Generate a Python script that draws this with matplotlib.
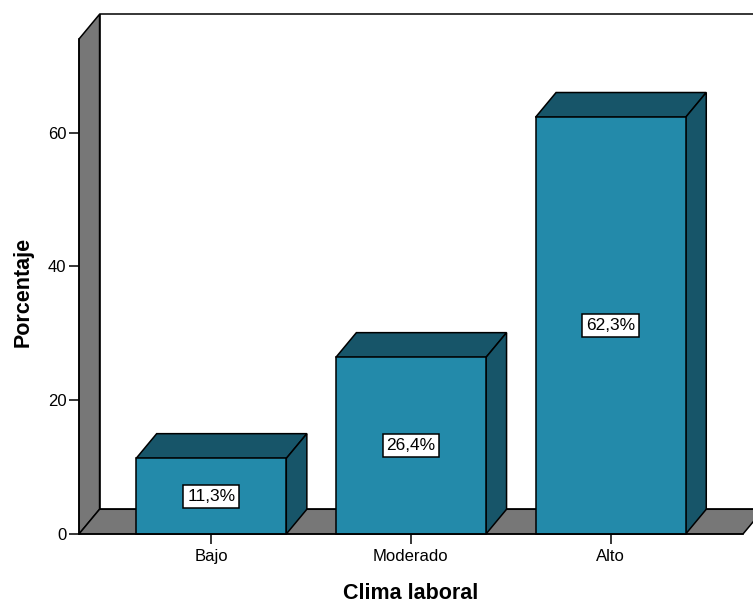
import matplotlib
matplotlib.use("Agg")
import matplotlib.pyplot as plt
from matplotlib.patches import Polygon, Rectangle

categories = ["Bajo", "Moderado", "Alto"]
values = [11.3, 26.4, 62.3]
value_labels = ["11,3%", "26,4%", "62,3%"]
y_ticks = [0, 20, 40, 60]

plt.rcParams['font.family'] = ['Liberation Sans', 'DejaVu Sans']

FRONT = "#238AAA"
DARK = "#175569"
GRAY = "#777777"

fig = plt.figure(figsize=(7.53, 6.03), dpi=100)
ax = fig.add_axes([79/753, 69/603, 664/753, 495/603])

xmin, xmax = -0.662, 2.663
ymin, ymax = 0, 74.0
dx, dy = 0.103, 3.7
bw = 0.752

ax.set_xlim(xmin, xmax)
ax.set_ylim(ymin, ymax)
ax.patch.set_visible(False)

lw = 1.1
# back panel
back = Polygon([(xmin+dx, dy), (xmin+dx, ymax+dy), (xmax+dx, ymax+dy), (xmax+dx, dy)],
               closed=True, facecolor="white", edgecolor="black", lw=lw, clip_on=False, zorder=0.5)
ax.add_patch(back)
# left wall
wall = Polygon([(xmin, 0), (xmin, ymax), (xmin+dx, ymax+dy), (xmin+dx, dy)],
               closed=True, facecolor=GRAY, edgecolor="black", lw=lw, clip_on=False, zorder=1)
ax.add_patch(wall)
# floor
floor = Polygon([(xmin, 0), (xmax, 0), (xmax+dx, dy), (xmin+dx, dy)],
                closed=True, facecolor=GRAY, edgecolor="black", lw=lw, clip_on=False, zorder=1)
ax.add_patch(floor)

for i, (v, lab) in enumerate(zip(values, value_labels)):
    x0, x1 = i - bw/2, i + bw/2
    top = Polygon([(x0, v), (x1, v), (x1+dx, v+dy), (x0+dx, v+dy)], closed=True,
                  facecolor=DARK, edgecolor="black", lw=lw, clip_on=False, zorder=2)
    side = Polygon([(x1, 0), (x1+dx, dy), (x1+dx, v+dy), (x1, v)], closed=True,
                   facecolor=DARK, edgecolor="black", lw=lw, clip_on=False, zorder=2)
    front = Rectangle((x0, 0), bw, v, facecolor=FRONT, edgecolor="black", lw=lw,
                      clip_on=False, zorder=3)
    ax.add_patch(top)
    ax.add_patch(side)
    ax.add_patch(front)
    ax.text(i, v/2, lab, ha="center", va="center", fontsize=12.5, color="black", zorder=5,
            bbox=dict(boxstyle="square,pad=0.22", facecolor="white", edgecolor="black", lw=1.1))

for s in ["top", "right"]:
    ax.spines[s].set_visible(False)
ax.spines["left"].set_linewidth(lw)
ax.spines["bottom"].set_linewidth(lw)
ax.spines["left"].set_zorder(4)
ax.spines["bottom"].set_zorder(4)

ax.set_yticks(y_ticks)
ax.set_yticklabels([str(t) for t in y_ticks])
ax.set_xticks(range(len(categories)))
ax.set_xticklabels(categories)
ax.tick_params(axis="both", direction="out", length=7.5, width=1.1, labelsize=12,
               colors="black", pad=1.5)
ax.tick_params(axis="x", pad=3)

ax.set_xlabel("Clima laboral", fontsize=15.5, fontweight="bold")
ax.xaxis.set_label_coords((411 - 79) / 664, -0.098)
ax.xaxis.label.set_horizontalalignment("center")
ax.set_ylabel("Porcentaje", fontsize=15.5, fontweight="bold")
ax.yaxis.set_label_coords(-0.069, 0.49)

fig.savefig("out.png", dpi=100)
